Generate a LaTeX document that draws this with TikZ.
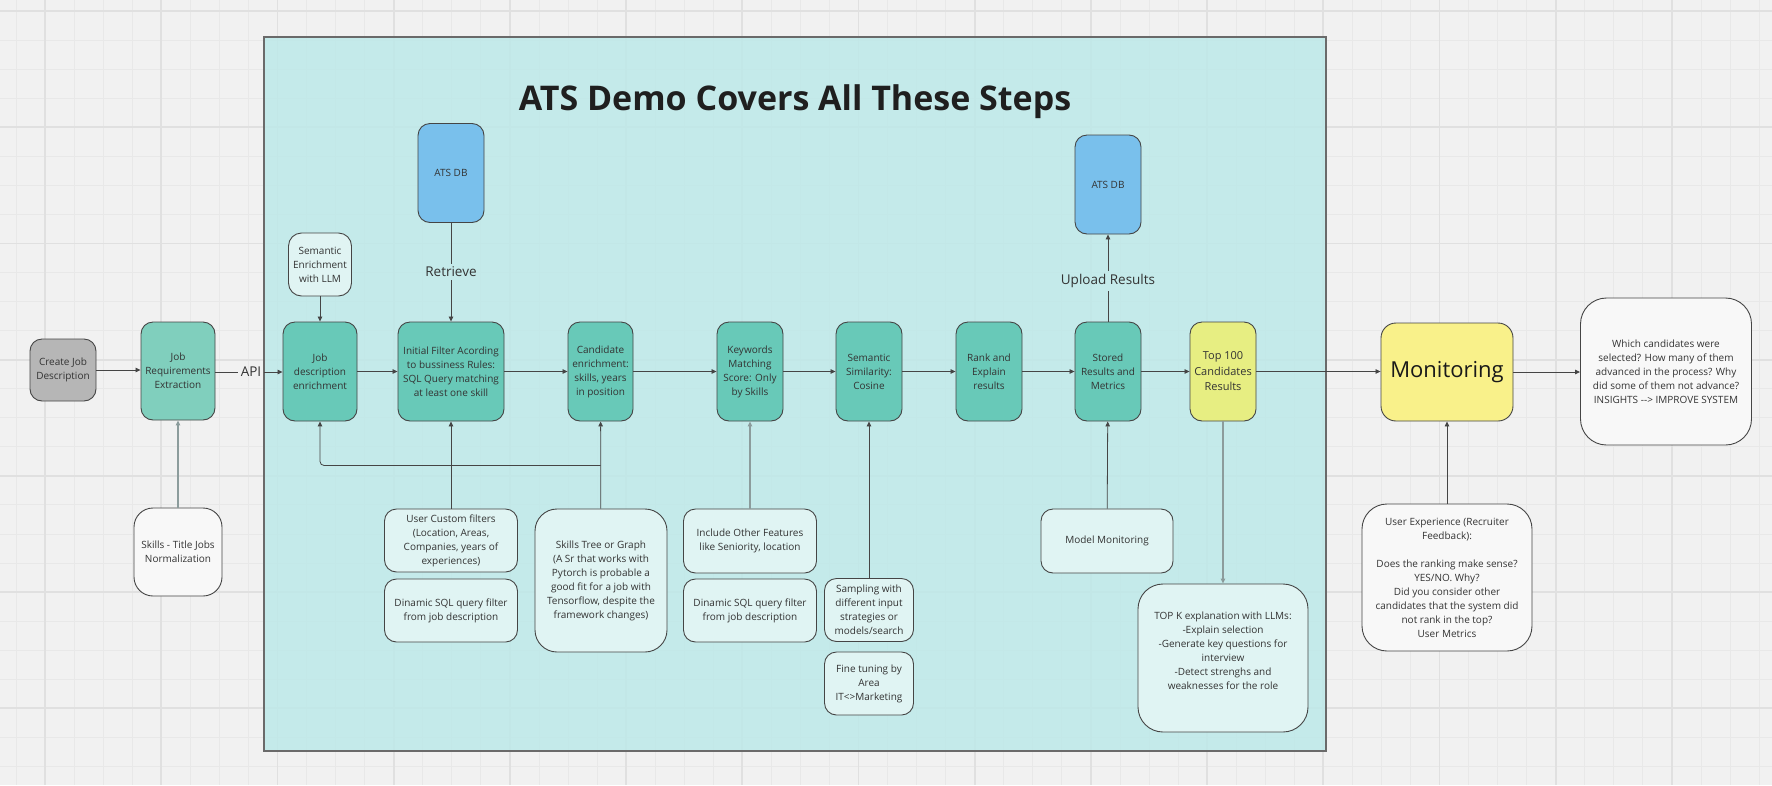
\documentclass[tikz,border=0pt]{standalone}
\usepackage{fontspec}
\setmainfont{Open Sans}
\usetikzlibrary{arrows.meta}
\definecolor{bgc}{HTML}{F1F1F1}
\definecolor{gridminor}{HTML}{E8E8E8}
\definecolor{gridmajor}{HTML}{E0E0E0}
\definecolor{contfill}{HTML}{BDE9E9}
\definecolor{tealbox}{HTML}{68C9B8}
\definecolor{teallight}{HTML}{80CFBD}
\definecolor{pale}{HTML}{E0F4F3}
\definecolor{whitebox}{HTML}{F8F8F8}
\definecolor{dbblue}{HTML}{79C0EC}
\definecolor{yellowA}{HTML}{E7EE82}
\definecolor{yellowB}{HTML}{F9F18A}
\definecolor{graybox}{HTML}{B6B6B6}
\definecolor{edgec}{HTML}{454545}
\definecolor{txt}{HTML}{333333}
\definecolor{grayline}{HTML}{8C9C9C}
\tikzset{
  base/.style={draw=edgec, line width=0.9pt, rounded corners=12pt, align=center,
    text=txt, font=\fontsize{10}{14}\selectfont, inner sep=1.5pt},
  stepbox/.style={base, fill=tealbox},
  palebox/.style={base, fill=pale},
  whitenote/.style={base, fill=whitebox},
  dbbox/.style={base, fill=dbblue, minimum width=66pt, minimum height=99pt},
  lbl/.style={font=\fontsize{13.5}{16}\selectfont, text=txt, inner sep=3pt},
  arr/.style={draw=edgec, line width=0.8pt, -{Triangle[length=5pt,width=4.5pt]}},
  garr/.style={draw=grayline, line width=1.6pt, -{Triangle[length=5pt,width=4.5pt,fill=edgec]}},
  plain/.style={draw=edgec, line width=0.8pt},
}
\begin{document}
\begin{tikzpicture}[x=1pt,y=-1pt]
\useasboundingbox (0,0) rectangle (1772,785);
\fill[bgc] (0,0) rectangle (1772,785);
% grid
\foreach \i in {0,...,61} {\draw[gridminor, line width=0.8pt] ({16+\i*29.05},0) -- ({16+\i*29.05},785);}
\foreach \i in {0,...,26} {\draw[gridminor, line width=0.8pt] (0,{11+\i*29.05}) -- (1772,{11+\i*29.05});}
\foreach \i in {0,...,15} {\draw[gridmajor, line width=1.8pt] ({45+\i*116.2},0) -- ({45+\i*116.2},785);}
\foreach \i in {0,...,6} {\draw[gridmajor, line width=1.8pt] (0,{11+\i*116.2}) -- (1772,{11+\i*116.2});}
% container
\draw[draw=edgec!80, line width=1.2pt, fill=contfill, fill opacity=0.85] (264,37) rectangle (1326,751);
\node[font=\fontsize{34}{40}\selectfont\bfseries, text=black!88, anchor=base] (title) at (795,110) {ATS Demo Covers All These Steps};

% main row
\node[base, fill=graybox, minimum width=66pt, minimum height=62pt] (cj) at (63,370) {Create Job\\Description};
\node[base, fill=teallight, minimum width=74pt, minimum height=98pt] (jr) at (178,371) {Job\\Requirements\\Extraction};
\node[stepbox, minimum width=74pt, minimum height=99pt] (jd) at (320,371.5) {Job\\description\\enrichment};
\node[stepbox, minimum width=106pt, minimum height=99pt] (ini) at (451,371.5) {Initial Filter Acording\\to bussiness Rules:\\SQL Query matching\\at least one skill};
\node[stepbox, minimum width=65pt, minimum height=99pt] (ce) at (600.5,371.5) {Candidate\\enrichment:\\skills, years\\in position};
\node[stepbox, minimum width=66pt, minimum height=99pt] (kw) at (750,371.5) {Keywords\\Matching\\Score: Only\\by Skills};
\node[stepbox, minimum width=66pt, minimum height=99pt] (ss) at (869,371.5) {Semantic\\Similarity:\\Cosine};
\node[stepbox, minimum width=66pt, minimum height=99pt] (rk) at (989,371.5) {Rank and\\Explain\\results};
\node[stepbox, minimum width=66pt, minimum height=99pt] (st) at (1108,371.5) {Stored\\Results and\\Metrics};
\node[base, fill=yellowA, minimum width=66pt, minimum height=99pt, font=\fontsize{11}{15.5}\selectfont] (tp) at (1223,371.5) {Top 100\\Candidates\\Results};
\node[base, fill=yellowB, minimum width=132pt, minimum height=98pt, rounded corners=15pt, font=\fontsize{22}{26}\selectfont, text=black!90] (mo) at (1447,372) {Monitoring};
\node[whitenote, minimum width=171pt, minimum height=147pt, rounded corners=26pt] (wc) at (1666,371.5) {Which candidates were\\selected? How many of them\\advanced in the process? Why\\did some of them not advance?\\INSIGHTS -{}-{}> IMPROVE SYSTEM};

% top nodes
\node[palebox, minimum width=63pt, minimum height=63pt, rounded corners=13pt] (se) at (320,264.5) {Semantic\\Enrichment\\with LLM};
\node[dbbox] (db1) at (451,173) {ATS DB};
\node[dbbox] (db2) at (1108,184.5) {ATS DB};

% bottom nodes
\node[whitenote, minimum width=88pt, minimum height=88pt, rounded corners=19pt] (sk) at (178,552) {Skills - Title Jobs\\Normalization};
\node[palebox, minimum width=133pt, minimum height=63pt] (uc) at (451,540.5) {User Custom filters\\(Location, Areas,\\Companies, years of\\experiences)};
\node[palebox, minimum width=133pt, minimum height=63pt] (dq1) at (451,610.5) {Dinamic SQL query filter\\from job description};
\node[palebox, minimum width=132pt, minimum height=143pt, rounded corners=22pt] (stree) at (601,580.5) {Skills Tree or Graph\\(A Sr that works with\\Pytorch is probable a\\good fit for a job with\\Tensorflow, despite the\\framework changes)};
\node[palebox, minimum width=133pt, minimum height=64pt] (io) at (750,541) {Include Other Features\\like Seniority, location};
\node[palebox, minimum width=133pt, minimum height=63pt] (dq2) at (750,610.5) {Dinamic SQL query filter\\from job description};
\node[palebox, minimum width=89pt, minimum height=63pt] (sa) at (869,610) {Sampling with\\different input\\strategies or\\models/search};
\node[palebox, minimum width=89pt, minimum height=63pt] (ft) at (869,683.5) {Fine tuning by\\Area\\IT<>Marketing};
\node[palebox, minimum width=132pt, minimum height=64pt] (mm) at (1107,541) {Model Monitoring};
\node[palebox, minimum width=170pt, minimum height=148pt, rounded corners=25pt] (tk) at (1223,658) {TOP K explanation with LLMs:\\-Explain selection\\-Generate key questions for\\interview\\-Detect strenghs and\\weaknesses for the role\\\mbox{}};
\node[whitenote, minimum width=170pt, minimum height=147pt, rounded corners=25pt] (ux) at (1447,577.5) {User Experience (Recruiter\\Feedback):\\[14pt]Does the ranking make sense?\\YES/NO. Why?\\Did you consider other\\candidates that the system did\\not rank in the top?\\User Metrics};

% labels
\node[lbl] (api) at (251,372) {API};
\node[lbl] (ret) at (451,272) {Retrieve};
\node[lbl] (upl) at (1108,281) {Upload Results};

% connectors
\draw[arr] (cj) -- (cj -| jr.west);
\draw[plain] (jr.east |- api) -- (api.west);
\draw[arr] (api.east) -- (api -| jd.west);
\draw[arr] (se) -- (jd);
\draw[arr] (jd) -- (ini);
\draw[plain] (db1) -- (ret.north);
\draw[arr] (ret.south) -- (ini);
\draw[arr] (ini) -- (ce);
\draw[arr] (uc) -- (ini);
\draw[arr] (stree) -- (ce);
\path (ce.south) ++(0,44) coordinate (fb);
\draw[arr, rounded corners=4pt] (fb) -| (jd.south);
\draw[arr] (ce) -- (kw);
\draw[garr] (io) -- (kw);
\draw[arr] (kw) -- (ss);
\draw[arr] (sa) -- (ss);
\draw[arr] (ss) -- (rk);
\draw[arr] (rk) -- (st);
\draw[plain] (st) -- (upl.south);
\draw[arr] (upl.north) -- (db2);
\draw[arr] (mm) -- (st);
\draw[arr] (st) -- (tp);
\draw[garr, line width=1.2pt] (tp) -- (tk);
\draw[arr] (tp) -- (tp -| mo.west);
\draw[arr] (ux) -- (mo);
\draw[arr] (mo) -- (mo -| wc.west);
\draw[garr] (sk) -- (jr);
\end{tikzpicture}
\end{document}
